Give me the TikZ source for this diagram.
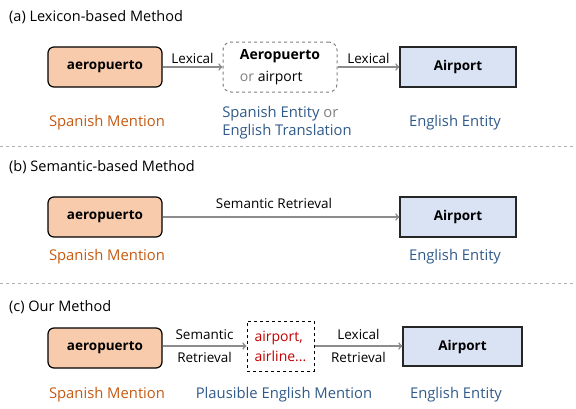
\documentclass[tikz,border=0pt]{standalone}
\usepackage{fontspec}
\setmainfont{Open Sans}
\usepackage{tikz}
\definecolor{peach}{HTML}{F8CBAD}
\definecolor{paleblue}{HTML}{DAE3F3}
\definecolor{rust}{HTML}{C55A11}
\definecolor{navy}{HTML}{2F5A8A}
\definecolor{arrowgray}{HTML}{8C8C8C}
\definecolor{darkred}{HTML}{C00000}

\begin{document}
\begin{tikzpicture}[x=1pt,y=-1pt,
  mention/.style={draw=black,line width=1.2pt,fill=peach,rounded corners=6pt,minimum width=114pt,minimum height=40pt,font=\fontsize{13.5}{16}\selectfont\bfseries},
  entity/.style={draw=black!85,line width=1.2pt,fill=paleblue,minimum width=116pt,minimum height=40pt,font=\fontsize{13.5}{16}\selectfont\bfseries},
  link/.style={draw=arrowgray,line width=1.6pt,->},
  tag/.style={font=\fontsize{13.5}{23}\selectfont,align=center,inner sep=1pt},
  caption/.style={font=\fontsize{14.8}{18}\selectfont},
  title/.style={anchor=west,inner sep=0pt,font=\fontsize{14.5}{17}\selectfont},
  sep/.style={draw=gray!60,dashed,line width=0.6pt}]
\useasboundingbox (0,0) rectangle (576,408);

\node[title] (ta) at (9,17) {(a) Lexicon-based Method};
\node[mention] (sa) at (105,67) {aeropuerto};
\node[draw=gray,dashed,line width=1pt,rounded corners=8pt,minimum width=114pt,minimum height=50pt,align=left,font=\fontsize{14}{22}\selectfont] (ma) at (280,67) {\textbf{Aeropuerto}\\{\color{gray}or} airport};
\node[entity] (ea) at (458,67) {Airport};
\draw[link] (sa) -- node[tag,above=2pt] {Lexical} (ma);
\draw[link] (ma) -- node[tag,above=2pt] {Lexical} (ea);
\node[caption,text=rust] (ca1) at (107,123) {Spanish Mention};
\node[caption,text=navy,align=left] (ca2) at (287,123) {Spanish Entity {\color{gray}or}\\English Translation};
\node[caption,text=navy] (ca3) at (455,123) {English Entity};
\draw[sep] (0,146) -- (576,146);

\node[title] (tb) at (9,167) {(b) Semantic-based Method};
\node[mention] (sb) at (105,217) {aeropuerto};
\node[entity] (eb) at (458,217) {Airport};
\draw[link] (sb) -- (eb);
\node[tag] (lb) at (274,203) {Semantic Retrieval};
\node[caption,text=rust] (cb1) at (107,257) {Spanish Mention};
\node[caption,text=navy] (cb3) at (455,257) {English Entity};
\draw[sep] (0,283) -- (576,283);

\node[title] (tc) at (9,307) {(c) Our Method};
\node[mention] (sc) at (105,348) {aeropuerto};
\node[draw=black,dashed,line width=1pt,minimum width=67pt,minimum height=50pt,align=left,text=darkred,font=\fontsize{14}{20}\selectfont] (mc) at (280.5,346) {airport,\\airline...};
\node[entity,minimum width=119pt,minimum height=39pt] (ec) at (462.5,346.5) {Airport};
\draw[link] (sc.east |- mc) -- node[tag] {Semantic\\Retrieval} (mc);
\draw[link] (mc) -- node[tag] {Lexical\\Retrieval} (ec.west |- mc);
\node[caption,text=rust] (cc1) at (107,395) {Spanish Mention};
\node[caption,text=navy] (cc2) at (284,395) {Plausible English Mention};
\node[caption,text=navy] (cc3) at (456,395) {English Entity};
\end{tikzpicture}
\end{document}
